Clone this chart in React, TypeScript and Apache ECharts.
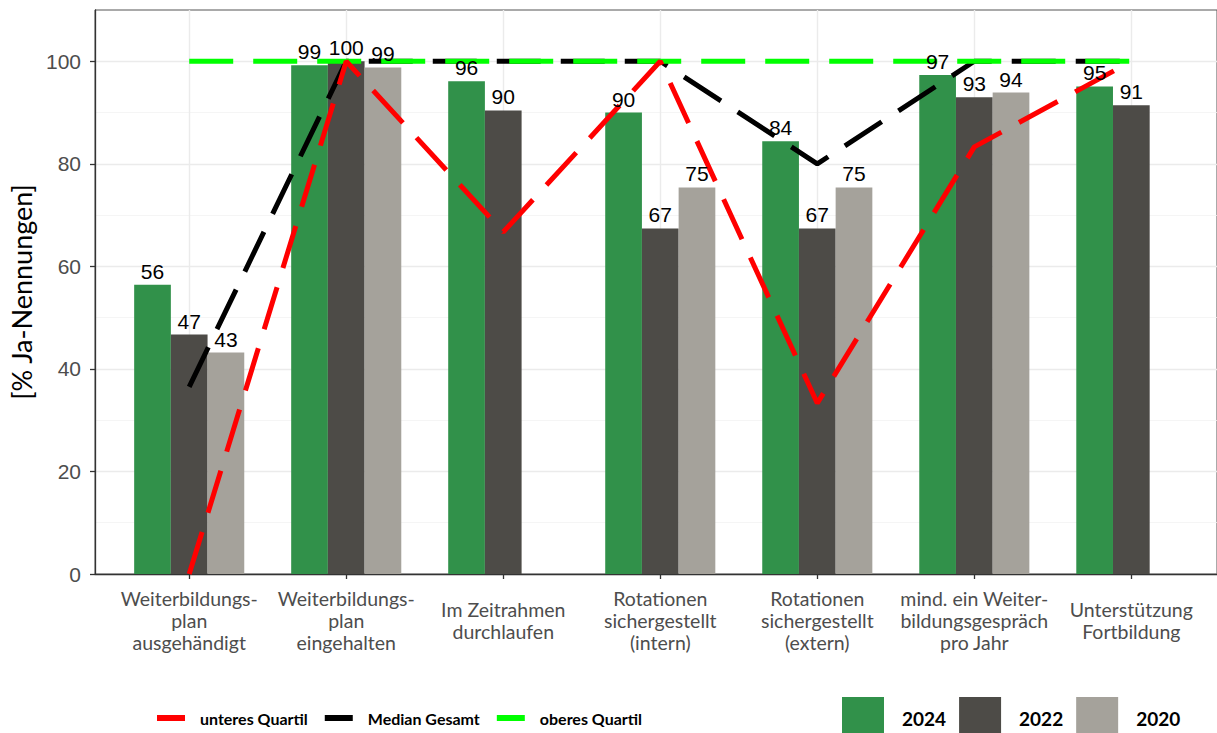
import React, { useEffect, useRef } from "react";
import * as echarts from "echarts";

const categories = [
  "Weiterbildungs-\nplan\nausgehändigt",
  "Weiterbildungs-\nplan\neingehalten",
  "Im Zeitrahmen\ndurchlaufen",
  "Rotationen\nsichergestellt\n(intern)",
  "Rotationen\nsichergestellt\n(extern)",
  "mind. ein Weiter-\nbildungsgespräch\npro Jahr",
  "Unterstützung\nFortbildung",
];
const positions = [1, 2, 3, 4, 5, 6, 7];
const values2024 = [56.4, 99.2, 96.1, 90.0, 84.4, 97.3, 95.1];
const values2022 = [46.7, 100, 90.4, 67.4, 67.4, 93.0, 91.4];
const values2020: (number | null)[] = [43.2, 98.8, null, 75.4, 75.4, 93.9, null];
const unteresQuartil = [0, 100, 66.7, 100, 33.3, 83.3, 100];
const medianGesamt = [36.5, 100, 100, 100, 80, 100, 100];
const oberesQuartil = [100, 100, 100, 100, 100, 100, 100];
const yTicks = [0, 20, 40, 60, 80, 100];

const C2024 = "#31914A";
const C2022 = "#4D4B47";
const C2020 = "#A5A29B";

function pairs(vals: (number | null)[]) {
  const out: [number, number][] = [];
  vals.forEach((v, i) => {
    if (v !== null) out.push([positions[i], v]);
  });
  return out;
}

export default function App() {
  const ref = useRef<HTMLDivElement>(null);
  useEffect(() => {
    const chart = echarts.init(ref.current!, null, { renderer: "svg" });
    const xBase = {
      type: "value",
      min: 0.4,
      max: 0.4 + 1124 / 157.3,
      minInterval: 1,
      maxInterval: 1,
      gridIndex: 0,
    };
    const isInt = (v: number) => Math.abs(v - Math.round(v)) < 1e-6;
    const barSeries = (name: string, vals: (number | null)[], color: string) => ({
      type: "bar",
      name,
      xAxisIndex: 0,
      yAxisIndex: 0,
      data: pairs(vals),
      barWidth: 36.7,
      barGap: "0%",
      itemStyle: { color },
      z: 2,
      silent: true,
    });
    const labelSeries = (name: string, vals: (number | null)[]) => ({
      type: "bar",
      name,
      xAxisIndex: 1,
      yAxisIndex: 0,
      data: pairs(vals),
      barWidth: 36.7,
      barGap: "0%",
      itemStyle: { color: "rgba(0,0,0,0)" },
      z: 10,
      silent: true,
      label: {
        show: true,
        position: "top",
        distance: 3,
        formatter: (p: any) => String(Math.round(p.value[1])),
        fontFamily: "Liberation Sans",
        fontSize: 21,
        color: "#000",
      },
    });
    const lineSeries = (name: string, vals: number[], color: string, z: number) => ({
      type: "line",
      name,
      data: vals.map((v, i) => [positions[i], v]),
      showSymbol: false,
      symbol: "none",
      color,
      itemStyle: { color, borderWidth: 0 },
      lineStyle: { color, width: 5, type: [44, 20], cap: "butt" },
      z,
      silent: true,
    });
    const option: any = {
      animation: false,
      backgroundColor: "#fff",
      grid: {
        left: 95,
        right: -2,
        top: 10,
        bottom: 159,
        show: true,
        borderColor: "#555",
        borderWidth: 1,
        containLabel: false,
      },
      xAxis: [
        {
          ...xBase,
          axisLine: { show: true, onZero: false, lineStyle: { color: "#333", width: 1.3 } },
          axisTick: { show: true, length: 5, customValues: positions, lineStyle: { color: "#333", width: 1.3 } },
          axisLabel: {
            customValues: positions,
            formatter: (v: number) => (isInt(v) ? categories[Math.round(v) - 1] ?? "" : ""),
            verticalAlign: "middle",
            align: "center",
            margin: 46,
            fontFamily: "Lato",
            fontSize: 19.5,
            lineHeight: 22,
            color: "#4D4D4D",
          },
          splitLine: { show: true, lineStyle: { color: "#EBEBEB", width: 1.4 } },
        },
        { ...xBase, show: false },
      ],
      yAxis: [
        {
          type: "value",
          min: 0,
          max: 110,
          interval: 20,
          name: "[% Ja-Nennungen]",
          nameLocation: "middle",
          nameGap: 56,
          nameTextStyle: { fontFamily: "Lato", fontSize: 27, color: "#000" },
          axisLine: { show: true, lineStyle: { color: "#333", width: 1.3 } },
          axisTick: { show: true, length: 5, customValues: yTicks, lineStyle: { color: "#333", width: 1.3 } },
          axisLabel: {
            customValues: yTicks,
            formatter: (v: number) => (v <= 100 ? String(v) : ""),
            margin: 14,
            fontFamily: "Liberation Sans",
            fontSize: 21,
            color: "#4D4D4D",
          },
          splitLine: { show: true, lineStyle: { color: "#EBEBEB", width: 1.4 } },
          minorTick: { show: false, splitNumber: 2 },
          minorSplitLine: { show: true, lineStyle: { color: "#F3F3F3", width: 0.8 } },
        },
      ],
      legend: [
        {
          data: ["unteres Quartil", "Median Gesamt", "oberes Quartil"],
          left: 152,
          top: 705,
          icon: "rect",
          itemWidth: 28,
          itemHeight: 6,
          itemGap: 17,
          itemStyle: { borderWidth: 0 },
          lineStyle: { width: 0 },
          selectedMode: false,
          textStyle: {
            fontFamily: "Lato",
            fontWeight: "bold",
            fontSize: 16,
            color: "#000",
            padding: [0, 0, 0, 10],
          },
        },
        {
          data: ["2024", "2022", "2020"],
          left: 837,
          top: 692,
          icon: "rect",
          itemWidth: 42,
          itemHeight: 42,
          itemGap: 13,
          itemStyle: { borderWidth: 0 },
          selectedMode: false,
          textStyle: {
            fontFamily: "Lato",
            fontWeight: "bold",
            fontSize: 19,
            color: "#000",
            padding: [0, 0, 0, 13],
          },
        },
      ],
      series: [
        barSeries("2024", values2024, C2024),
        barSeries("2022", values2022, C2022),
        barSeries("2020", values2020, C2020),
        lineSeries("Median Gesamt", medianGesamt, "#000000", 3),
        lineSeries("oberes Quartil", oberesQuartil, "#00FF00", 4),
        lineSeries("unteres Quartil", unteresQuartil, "#FF0000", 5),
        labelSeries("l2024", values2024),
        labelSeries("l2022", values2022),
        labelSeries("l2020", values2020),
      ],
    };
    chart.setOption(option);
    return () => chart.dispose();
  }, []);
  return (
    <div
      ref={ref}
      style={{ position: "fixed", left: 0, top: 0, width: 1217, height: 733 }}
    />
  );
}
